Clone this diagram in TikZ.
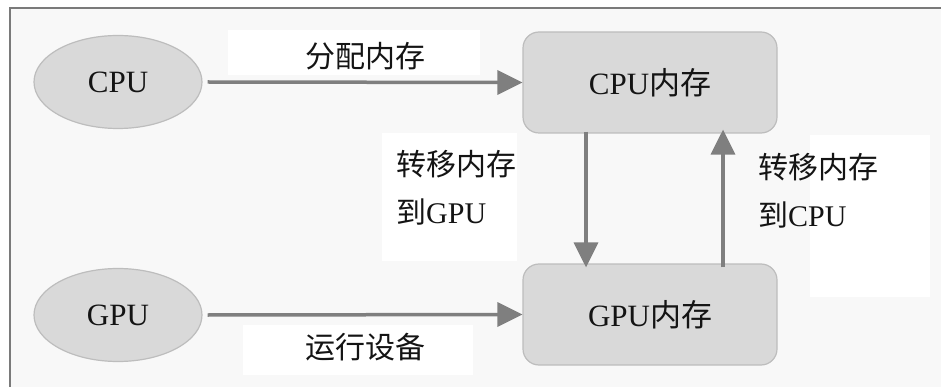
\documentclass[tikz,border=0pt]{standalone}
\usepackage{fontspec}
\setmainfont{Liberation Serif}
\newfontfamily\cjk{Noto Sans CJK SC}
\usetikzlibrary{arrows.meta,shapes.geometric}
\definecolor{bgc}{HTML}{F8F8F8}
\definecolor{framec}{HTML}{7A7A7A}
\definecolor{fillc}{HTML}{D9D9D9}
\definecolor{edgec}{HTML}{BDBDBD}
\definecolor{arrc}{HTML}{7F7F7F}
\definecolor{txt}{HTML}{141414}
\tikzset{
  proc/.style={ellipse, draw=edgec, line width=1.2pt, fill=fillc, minimum width=168pt, minimum height=93pt, inner sep=0pt, text=txt, font=\fontsize{31}{36}\selectfont},
  mem/.style={rounded corners=16pt, draw=edgec, line width=1.2pt, fill=fillc, minimum width=254pt, minimum height=101pt, inner sep=0pt, text=txt, font=\fontsize{31}{36}\selectfont},
  lblbox/.style={fill=white, inner sep=0pt},
  lbl/.style={text=txt, font=\fontsize{30}{48}\selectfont, inner sep=0pt},
  conn/.style={draw=arrc, line width=3.5pt, -{Triangle[length=25pt,width=24pt]}},
}
\begin{document}
\begin{tikzpicture}[x=1pt,y=-1pt]
\useasboundingbox (0,0) rectangle (941,387);
\fill[bgc] (10,8) rectangle (941,387);
\draw[framec, line width=2pt] (10,390) -- (10,8) -- (945,8);
% label background boxes
\node[lblbox, minimum width=252pt, minimum height=45pt] (l1) at (354,52.5) {};
\node[lblbox, minimum width=230pt, minimum height=50pt] (l2) at (358,350) {};
\node[lblbox, minimum width=135pt, minimum height=127pt] (l3) at (449.5,197) {};
\node[lblbox, minimum width=120pt, minimum height=162pt] (l4) at (870,216) {};
% texts
\node[lbl] (t1) at (365,56) {\cjk 分配内存};
\node[lbl] (t2) at (365,347) {\cjk 运行设备};
\node[lbl, anchor=north west, align=left] (t3) at (396,150) {{\cjk 转移内存}\\{\cjk 到}\rmfamily GPU};
\node[lbl, anchor=north west, align=left] (t4) at (758,153) {{\cjk 转移内存}\\{\cjk 到}\rmfamily CPU};
% nodes
\node[proc] (cpu) at (118,82) {CPU};
\node[proc] (gpu) at (118,315) {GPU};
\node[mem] (cmem) at (650,82.5) {CPU{\cjk 内存}};
\node[mem] (gmem) at (650,314.5) {GPU{\cjk 内存}};
% connectors
\draw[conn] ([xshift=5pt]cpu.east) -- (cmem.west);
\draw[conn] ([xshift=5pt]gpu.east) -- (gmem.west);
\draw[conn] ([xshift=-64pt,yshift=2pt]cmem.south) -- ([xshift=-64pt,yshift=-4pt]gmem.north);
\draw[conn] ([xshift=73pt,yshift=-4pt]gmem.north) -- ([xshift=73pt,yshift=4pt]cmem.south);
\end{tikzpicture}
\end{document}
